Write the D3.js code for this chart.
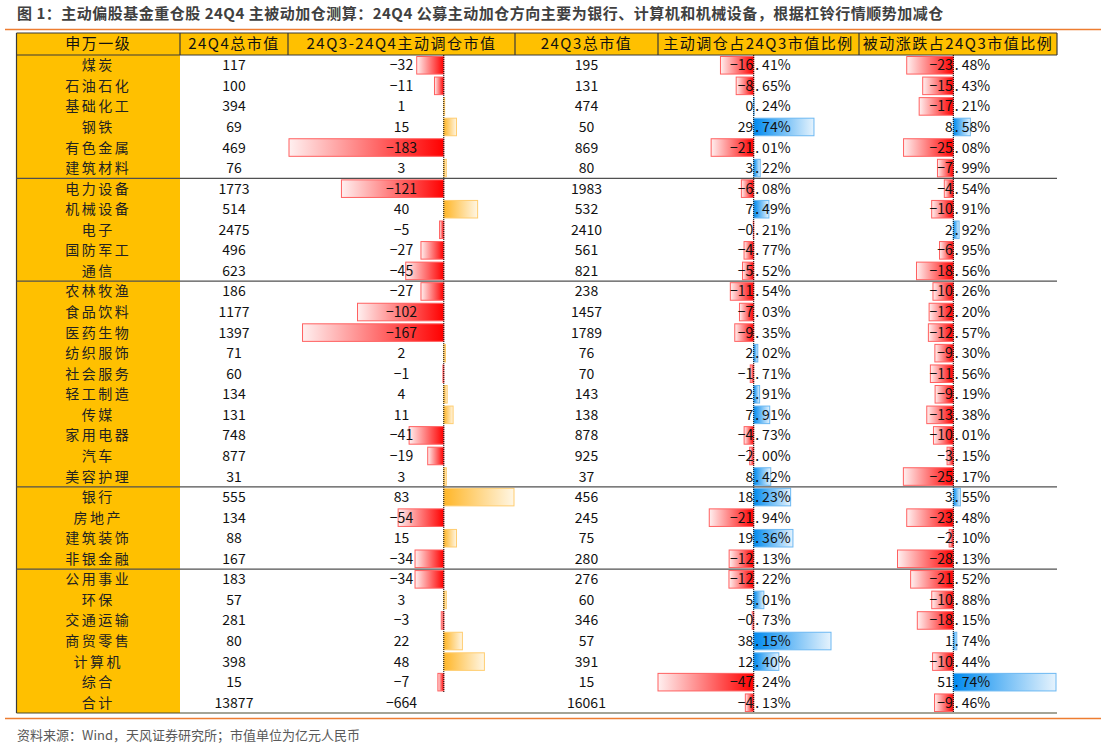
<!DOCTYPE html>
<html>
<head>
<meta charset="utf-8">
<script src="https://cdn.jsdelivr.net/npm/d3@7"></script>
<style>
  body { margin: 0; background: #fff; }
  text { font-family: "Noto Sans CJK SC", "Noto Sans", sans-serif; }
</style>
</head>
<body>
<div id="chart"></div>
<script>
// Data
var industries = ["煤炭","石油石化","基础化工","钢铁","有色金属","建筑材料",
  "电力设备","机械设备","电子","国防军工","通信",
  "农林牧渔","食品饮料","医药生物","纺织服饰","社会服务","轻工制造","传媒","家用电器","汽车","美容护理",
  "银行","房地产","建筑装饰","非银金融",
  "公用事业","环保","交通运输","商贸零售","计算机","综合"];
var groupSizes = [6, 5, 10, 4, 6];
var q4Total = [117,100,394,69,469,76,1773,514,2475,496,623,186,1177,1397,71,60,134,131,748,877,31,555,134,88,167,183,57,281,80,398,15];
var activeChange = [-32,-11,1,15,-183,3,-121,40,-5,-27,-45,-27,-102,-167,2,-1,4,11,-41,-19,3,83,-54,15,-34,-34,3,-3,22,48,-7];
var q3Total = [195,131,474,50,869,80,1983,532,2410,561,821,238,1457,1789,76,70,143,138,878,925,37,456,245,75,280,276,60,346,57,391,15];
var activeRatio = [-16.41,-8.65,0.24,29.74,-21.01,3.22,-6.08,7.49,-0.21,-4.77,-5.52,-11.54,-7.03,-9.35,2.02,-1.71,2.91,7.91,-4.73,-2.00,8.42,18.23,-21.94,19.36,-12.13,-12.22,5.01,-0.73,38.15,12.40,-47.24];
var passiveRatio = [-23.48,-15.43,-17.21,8.58,-25.08,-7.99,-4.54,-10.91,2.92,-6.95,-18.56,-10.26,-12.20,-12.57,-9.30,-11.56,-9.19,-13.38,-10.01,-3.15,-25.17,3.55,-23.48,-2.10,-28.13,-21.52,-10.88,-18.15,1.74,-10.44,51.74];
var totalRow = {name: "合计", q4: 13877, change: -664, q3: 16061, active: -4.13, passive: -9.46};
var headers = ["申万一级","24Q4总市值","24Q3-24Q4主动调仓市值","24Q3总市值","主动调仓占24Q3市值比例","被动涨跌占24Q3市值比例"];

var title = "图 1：主动偏股基金重仓股 24Q4 主被动加仓测算：24Q4 公募主动加仓方向主要为银行、计算机和机械设备，根据杠铃行情顺势加减仓";
var source = "资料来源：Wind，天风证券研究所；市值单位为亿元人民币";

// Layout
var width = 1101, height = 746;
var colEdges = [16.5, 180, 288, 515, 658, 859, 1057];
var headTop = 33, headH = 22;
var rowTop = headTop + headH;
var nRows = industries.length + 1;
var rowH = (713 - rowTop) / nRows;

var svg = d3.select("#chart").append("svg")
  .attr("width", width).attr("height", height);

var defs = svg.append("defs");
function grad(id, c0, c1) {
  var g = defs.append("linearGradient").attr("id", id)
    .attr("x1", 0).attr("x2", 1).attr("y1", 0).attr("y2", 0);
  g.append("stop").attr("offset", "0%").attr("stop-color", c0);
  g.append("stop").attr("offset", "100%").attr("stop-color", c1);
}
grad("negGrad", "#FFF0F0", "#FF0000");
grad("orgGrad", "#FFB628", "#FFF6E4");
grad("bluGrad", "#008AEF", "#E6F3FD");

// rows as objects
var rows = industries.map(function(name, i) {
  return {name: name, q4: q4Total[i], change: activeChange[i], q3: q3Total[i],
    active: activeRatio[i], passive: passiveRatio[i], total: false};
});
totalRow.total = true;
rows.push(totalRow);

var yRow = d3.scaleBand().domain(d3.range(nRows)).range([rowTop, rowTop + rowH * nRows]);

// scales for data bars
var x3 = d3.scaleLinear().domain(d3.extent(activeChange)).range([289, 514]);
var x5 = d3.scaleLinear().domain(d3.extent(activeRatio)).range([658, 831]);
var x6 = d3.scaleLinear().domain(d3.extent(passiveRatio)).range([897.5, 1056]);

// title + orange rules
svg.append("text").attr("x", 17).attr("y", 19)
  .attr("font-size", 15).attr("font-weight", "bold").attr("fill", "#404040")
  .attr("letter-spacing", 0.5)
  .text(title);
[29.5, 718.5].forEach(function(y) {
  svg.append("line").attr("x1", 5).attr("x2", width).attr("y1", y).attr("y2", y)
    .attr("stroke", "#ED7D31").attr("stroke-width", 1.5);
});
svg.append("text").attr("x", 17).attr("y", 740)
  .attr("font-size", 13).attr("fill", "#595959").text(source);

// yellow first column + header
svg.append("rect").attr("x", colEdges[0]).attr("y", headTop)
  .attr("width", colEdges[6] - colEdges[0]).attr("height", headH).attr("fill", "#FFC000");
svg.append("rect").attr("x", colEdges[0]).attr("y", rowTop)
  .attr("width", colEdges[1] - colEdges[0]).attr("height", rowH * nRows).attr("fill", "#FFC000");

headers.forEach(function(h, i) {
  svg.append("text")
    .attr("x", (colEdges[i] + colEdges[i + 1]) / 2).attr("y", headTop + headH / 2 + 5)
    .attr("text-anchor", "middle").attr("font-size", 15).attr("letter-spacing", 1.5)
    .attr("fill", "#111").text(h);
});

// header borders
var border = svg.append("g").attr("stroke", "#3a3a3a").attr("stroke-width", 1.2);
border.append("line").attr("x1", colEdges[0]).attr("x2", colEdges[6]).attr("y1", headTop).attr("y2", headTop);
border.append("line").attr("x1", colEdges[0]).attr("x2", colEdges[6]).attr("y1", rowTop).attr("y2", rowTop);
colEdges.forEach(function(x, i) {
  border.append("line").attr("x1", x).attr("x2", x).attr("y1", headTop)
    .attr("y2", i === 0 ? rowTop + rowH * nRows : rowTop);
});

// data bars
function bars(scale, key, neg, pos, skipTotal) {
  var data = rows.filter(function(d) { return !(skipTotal && d.total); });
  svg.append("g").selectAll("rect").data(data).enter().append("rect")
    .attr("x", function(d) { return Math.min(scale(0), scale(d[key])); })
    .attr("y", function(d, i) { return yRow(rows.indexOf(d)) + 1.5; })
    .attr("width", function(d) { return Math.abs(scale(d[key]) - scale(0)); })
    .attr("height", rowH - 3)
    .attr("fill", function(d) { return d[key] < 0 ? "url(#negGrad)" : "url(#" + pos + ")"; })
    .attr("stroke", function(d) { return d[key] < 0 ? "#FF6060" : neg; })
    .attr("stroke-width", 1);
  svg.append("line").attr("x1", scale(0)).attr("x2", scale(0))
    .attr("y1", rowTop).attr("y2", rowTop + rowH * (skipTotal ? nRows - 1 : nRows))
    .attr("stroke", "#000").attr("stroke-width", 1).attr("stroke-dasharray", "1,1");
}
bars(x3, "change", "#FFCD70", "orgGrad", true);
bars(x5, "active", "#6CB8F2", "bluGrad", false);
bars(x6, "passive", "#6CB8F2", "bluGrad", false);

// text cells
function fmtInt(v) { return v < 0 ? "−" + Math.abs(v) : String(v); }
var body = svg.append("g").selectAll("g").data(rows).enter().append("g")
  .attr("transform", function(d, i) { return "translate(0," + (yRow(i) + rowH / 2 + 5) + ")"; });

body.append("text")
  .attr("x", (colEdges[0] + colEdges[1]) / 2).attr("text-anchor", "middle")
  .attr("font-size", 14).attr("letter-spacing", 2.5).attr("fill", "#222")
  .text(function(d) { return d.name; });

[["q4", 1], ["change", 2], ["q3", 3]].forEach(function(c) {
  body.append("text")
    .attr("x", (colEdges[c[1]] + colEdges[c[1] + 1]) / 2).attr("text-anchor", "middle")
    .attr("font-size", 14).attr("fill", "#111")
    .text(function(d) { return fmtInt(d[c[0]]); });
});

// percentages aligned on the decimal point at the bar axis
[["active", x5], ["passive", x6]].forEach(function(c) {
  var ax = c[1](0);
  body.append("text").attr("x", ax - 0.5).attr("text-anchor", "end")
    .attr("font-size", 14).attr("fill", "#111")
    .text(function(d) {
      var s = Math.abs(d[c[0]]).toFixed(2).split(".")[0];
      return (d[c[0]] < 0 ? "−" : "") + s;
    });
  var t = body.append("text").attr("x", ax + 1.5).attr("font-size", 14).attr("fill", "#111");
  t.append("tspan").text(".");
  t.append("tspan").attr("dx", 3)
    .text(function(d) { return Math.abs(d[c[0]]).toFixed(2).split(".")[1] + "%"; });
});

// group separators + bottom border
var cum = 0;
groupSizes.slice(0, -1).forEach(function(n) {
  cum += n;
  svg.append("line").attr("x1", colEdges[0]).attr("x2", colEdges[6])
    .attr("y1", yRow(cum)).attr("y2", yRow(cum))
    .attr("stroke", "#505050").attr("stroke-width", 1.2);
});
svg.append("line").attr("x1", colEdges[0]).attr("x2", colEdges[6])
  .attr("y1", rowTop + rowH * nRows).attr("y2", rowTop + rowH * nRows)
  .attr("stroke", "#4a4a30").attr("stroke-width", 1.2);
</script>
</body>
</html>
